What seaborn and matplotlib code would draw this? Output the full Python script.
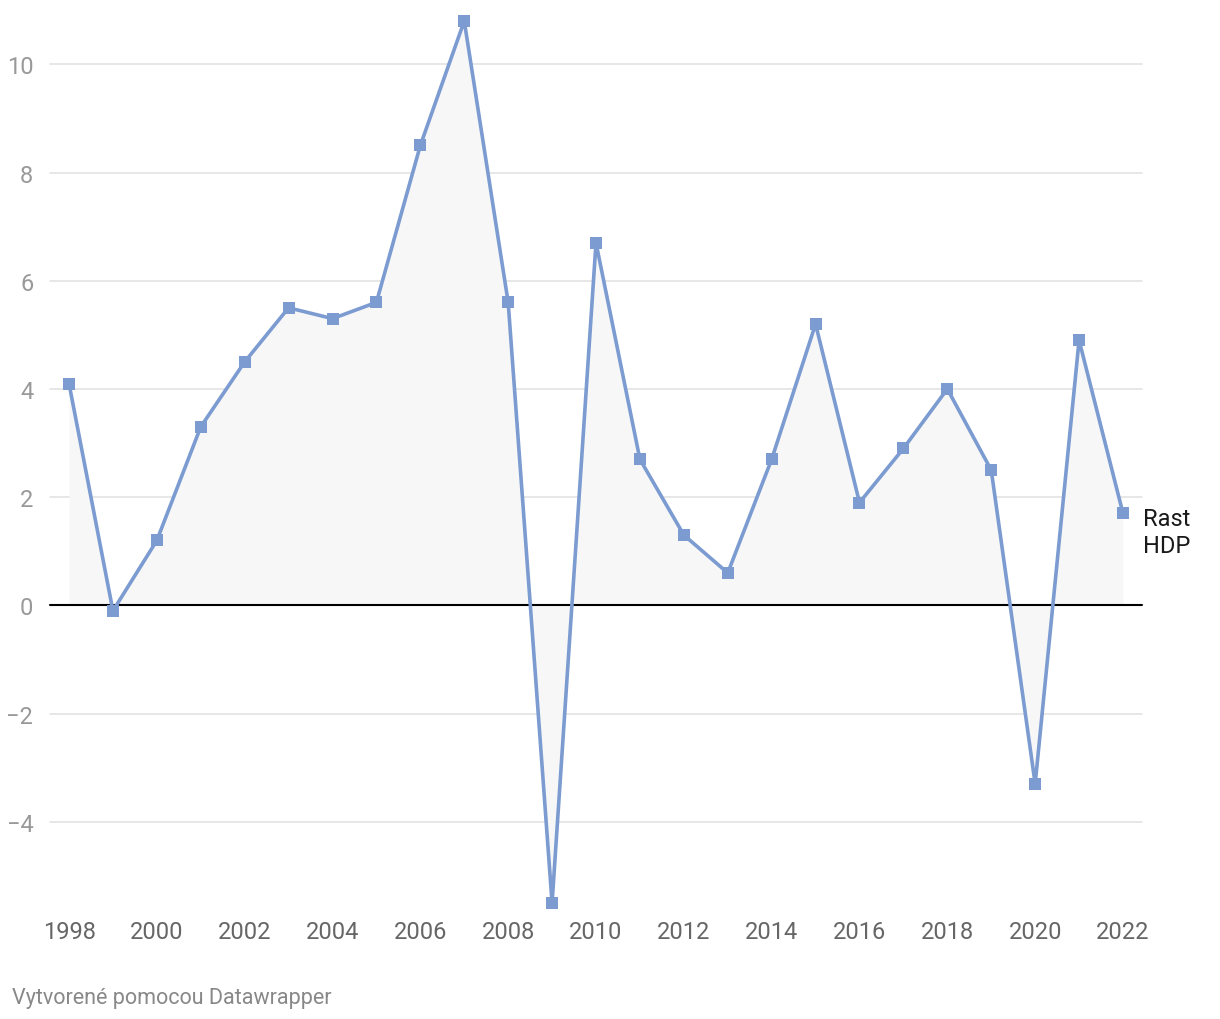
import matplotlib
matplotlib.use("Agg")
import matplotlib.pyplot as plt
import seaborn as sns
import pandas as pd

years = list(range(1998, 2023))
growth = [4.1, -0.1, 1.2, 3.3, 4.5, 5.5, 5.3, 5.6, 8.5, 10.8, 5.6, -5.5, 6.7,
          2.7, 1.3, 0.6, 2.7, 5.2, 1.9, 2.9, 4.0, 2.5, -3.3, 4.9, 1.7]
yticks = [-4, -2, 0, 2, 4, 6, 8, 10]
xticks = list(range(1998, 2023, 2))
series_label = "Rast\nHDP"
footer = "Vytvorené pomocou Datawrapper"

df = pd.DataFrame({"year": years, "growth": growth})

sns.set_theme(style="white")
plt.rcParams["font.family"] = ["Roboto", "DejaVu Sans"]

fig = plt.figure(figsize=(12.2, 10.2), dpi=100)
ax = fig.add_axes([50/1220, 1-904/1020, (1142-50)/1220, (904-22)/1020])

ax.fill_between(df["year"], 0, df["growth"], color="#f7f7f7", zorder=1, linewidth=0)
for t in yticks:
    if t != 0:
        ax.axhline(t, color="#e3e3e3", linewidth=1.2, zorder=0)
ax.axhline(0, color="#000000", linewidth=1.5, zorder=2)

sns.lineplot(data=df, x="year", y="growth", ax=ax, color="#7b9bd1", linewidth=2.6,
             marker="s", markersize=9, markeredgewidth=0, zorder=3)
for line in ax.lines:
    line.set_clip_on(False)

ax.set_xlim(1998 - 19/43.9, 2022 + 19/43.9)
ax.set_ylim(-5.5, 10.8)
ax.set_xticks(xticks)
ax.set_xticklabels([str(x) for x in xticks])
ax.set_yticks(yticks)
ax.set_yticklabels(["\u2212" + str(-t) if t < 0 else str(t) for t in yticks])
ax.tick_params(axis="x", length=0, pad=12, labelsize=17, labelcolor="#666666")
ax.tick_params(axis="y", length=0, pad=12, labelsize=17, labelcolor="#999999")
ax.set_xlabel("")
ax.set_ylabel("")
for s in ax.spines.values():
    s.set_visible(False)

ax.text(1143/1220, 1-508/1020, series_label, fontsize=17, color="#1a1a1a",
        ha="left", va="top", linespacing=1.2,
        transform=fig.transFigure, clip_on=False)

fig.text(12/1220, 1-999/1020, footer, fontsize=15.5, color="#888888",
         ha="left", va="center")

fig.savefig("out.png", dpi=100)
